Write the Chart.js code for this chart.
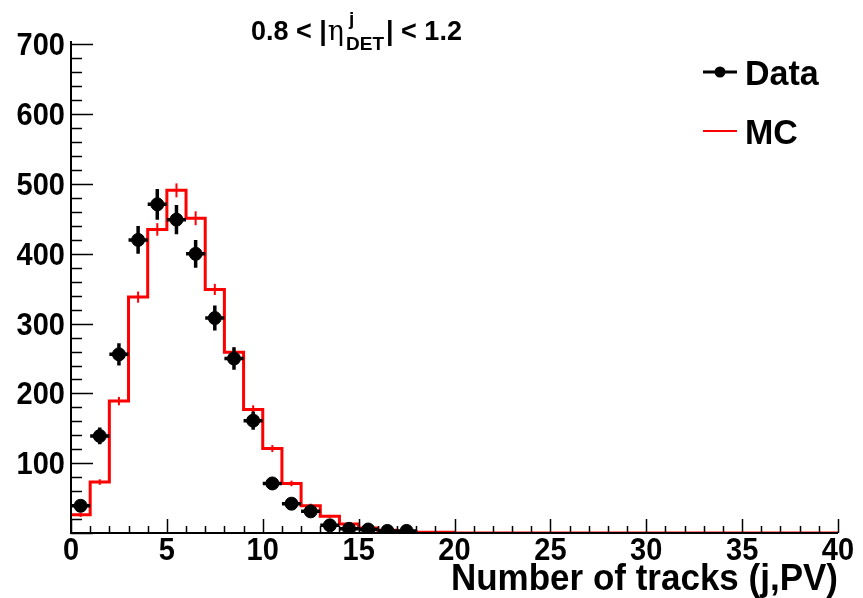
<!DOCTYPE html>
<html><head><meta charset="utf-8">
<script src="https://cdn.jsdelivr.net/npm/chart.js@4.4.1/dist/chart.umd.min.js"></script>
<style>html,body{margin:0;padding:0;background:#fff;} #wrap{width:863px;height:598px;position:relative}</style>
</head><body><div id="wrap"><canvas id="c" width="863" height="598"></canvas></div>
<script>
// Data (black points): bin centres, counts, errors
const dataX = [0.5,1.5,2.5,3.5,4.5,5.5,6.5,7.5,8.5,9.5,10.5,11.5,12.5,13.5,14.5,15.5,16.5,17.5];
const dataY = [39,139,256,420,471,449,400,308,250,161,71,42,31,11,6,5,3,3];
const dataErr = [6,12,16,20,22,21,20,18,16,13,8,6,6,3,3,2,2,2];
// MC histogram (red): bin low edges 0..39, contents, errors
const mcEdges = [0,1,2,3,4,5,6,7,8,9,10,11,12,13,14,15,16,17,18,19,20,21,22,23,24,25,26,27,28,29,30,31,32,33,34,35,36,37,38,39,40];
const mcY = [26,73,189,338,435,491,451,349,259,177,121,71,39,24,13,7,4,2,1,1,0,0,0,0,0,0,0,0,0,0,0,0,0,0,0,0,0,0,0,0];
const mcErr = [3,4,6,8,9,10,10,8,7,6,5,4,3,2,2,1,1,1,1,0,0,0,0,0,0,0,0,0,0,0,0,0,0,0,0,0,0,0,0,0];
// Axis ticks
const xTickLabels = [0,5,10,15,20,25,30,35,40];
const yTickLabels = [100,200,300,400,500,600,700];
const xRange = [0,40];
const yRange = [0,705];

const FONT = '"Liberation Sans", Arial, Helvetica, sans-serif';

const mcPoints = mcEdges.map((e,i)=>({x:e, y: i<mcY.length ? mcY[i] : mcY[mcY.length-1]}));
const dataPoints = dataX.map((x,i)=>({x:x, y:dataY[i]}));

function tallText(ctx, txt, x, y, sy){
  ctx.save(); ctx.translate(x, y); ctx.scale(1, sy); ctx.fillText(txt, 0, 0); ctx.restore();
}

const rootPlugin = {
  id:'rootStyle',
  afterDatasetDraw(chart, args){
    const ctx = chart.ctx, xs = chart.scales.x, ys = chart.scales.y;
    ctx.save();
    if (args.index === 1) { // MC error ticks
      ctx.strokeStyle = '#ff0000'; ctx.lineWidth = 2;
      mcY.forEach((v,i)=>{
        if (!mcErr[i]) return;
        const px = xs.getPixelForValue(mcEdges[i]+0.5);
        ctx.beginPath();
        ctx.moveTo(px, ys.getPixelForValue(v-mcErr[i]));
        ctx.lineTo(px, ys.getPixelForValue(v+mcErr[i]));
        ctx.stroke();
      });
    }
    ctx.restore();
  },
  beforeDatasetDraw(chart, args){
    const ctx = chart.ctx, xs = chart.scales.x, ys = chart.scales.y;
    if (args.index !== 0) return;
    ctx.save();
    ctx.strokeStyle = '#000'; ctx.lineWidth = 3.5;
    dataY.forEach((v,i)=>{
      const px = xs.getPixelForValue(dataX[i]);
      const py = ys.getPixelForValue(v);
      ctx.beginPath();
      ctx.moveTo(px, ys.getPixelForValue(Math.max(0,v-dataErr[i])));
      ctx.lineTo(px, ys.getPixelForValue(v+dataErr[i]));
      ctx.moveTo(xs.getPixelForValue(dataX[i]-0.5), py);
      ctx.lineTo(xs.getPixelForValue(dataX[i]+0.5), py);
      ctx.stroke();
    });
    ctx.restore();
  },
  afterDraw(chart){
    const ctx = chart.ctx, xs = chart.scales.x, ys = chart.scales.y;
    const a = chart.chartArea;
    ctx.save();
    ctx.strokeStyle = '#000'; ctx.lineWidth = 2;
    // axes
    ctx.beginPath();
    ctx.moveTo(a.left, a.top); ctx.lineTo(a.left, a.bottom); ctx.lineTo(a.right, a.bottom);
    ctx.stroke();
    ctx.lineWidth = 1.5;
    // y ticks (inward)
    ctx.beginPath();
    for (let v = 0; v <= yRange[1]; v += 20) {
      const py = Math.round(ys.getPixelForValue(v)) + 0.5;
      const len = (v % 100 === 0) ? 22 : 11;
      ctx.moveTo(a.left, py); ctx.lineTo(a.left + len, py);
    }
    // x ticks (inward)
    for (let v = xRange[0]; v <= xRange[1]; v += 1) {
      const px = Math.round(xs.getPixelForValue(v)) + 0.5;
      const len = (v % 5 === 0) ? 14 : 7;
      ctx.moveTo(px, a.bottom); ctx.lineTo(px, a.bottom - len);
    }
    ctx.stroke();
    // tick labels
    ctx.fillStyle = '#000';
    ctx.font = 'bold 29px ' + FONT;
    ctx.textAlign = 'right'; ctx.textBaseline = 'alphabetic';
    yTickLabels.forEach(v=>{ tallText(ctx, String(v), a.left - 6, ys.getPixelForValue(v) + 11, 1.08); });
    ctx.textAlign = 'center';
    xTickLabels.forEach(v=>{ tallText(ctx, String(v), xs.getPixelForValue(v), a.bottom + 27, 1.08); });
    // x title
    ctx.font = 'bold 35px ' + FONT;
    ctx.textAlign = 'right';
    tallText(ctx, 'Number of tracks (j,PV)', 838, 590, 1.05);
    // plot title with sup/sub
    ctx.textAlign = 'left';
    let x = 251; const base = 40;
    ctx.font = 'bold 27px ' + FONT;
    ctx.fillText('0.8 < |', x, base); x += ctx.measureText('0.8 < |').width + 1;
    ctx.font = '27px "DejaVu Serif", "Liberation Serif", serif';
    ctx.fillText('\u03b7', x, base); x += ctx.measureText('\u03b7').width + 2;
    ctx.font = 'bold 19px ' + FONT;
    ctx.fillText('j', x + 3, base - 15);
    ctx.fillText('DET', x, base + 10);
    x += ctx.measureText('DET').width + 2;
    ctx.font = 'bold 27px ' + FONT;
    ctx.fillText('| < 1.2', x, base);
    // legend
    ctx.font = 'bold 34px ' + FONT;
    ctx.strokeStyle = '#000'; ctx.lineWidth = 3;
    ctx.beginPath(); ctx.moveTo(703, 72); ctx.lineTo(737, 72); ctx.stroke();
    ctx.beginPath(); ctx.arc(720, 72, 5.5, 0, Math.PI*2); ctx.fillStyle = '#000'; ctx.fill();
    tallText(ctx, 'Data', 745, 85, 1.05);
    ctx.strokeStyle = '#ff0000'; ctx.lineWidth = 2;
    ctx.beginPath(); ctx.moveTo(703, 131); ctx.lineTo(737, 131); ctx.stroke();
    ctx.fillStyle = '#000';
    tallText(ctx, 'MC', 745, 144, 1.05);
    ctx.restore();
  }
};

new Chart(document.getElementById('c'), {
  type: 'scatter',
  data: {
    datasets: [
      { label:'Data', data: dataPoints, backgroundColor:'#000', borderColor:'#000', pointRadius:6.5, pointHoverRadius:6.5, showLine:false, order:0 },
      { label:'MC', type:'line', data: mcPoints, borderColor:'#ff0000', borderWidth:3, pointRadius:0, stepped:'before', fill:false, showLine:true, order:1 }
    ]
  },
  options: {
    responsive:false, animation:false, devicePixelRatio:1,
    events: [],
    layout: { padding: { top:41, right:25, left:0, bottom:0 } },
    plugins: { legend:{display:false}, tooltip:{enabled:false}, title:{display:false} },
    scales: {
      x: { type:'linear', min:xRange[0], max:xRange[1], ticks:{display:false}, grid:{display:false}, border:{display:false},
           afterFit(s){ s.height = 65; } },
      y: { type:'linear', min:yRange[0], max:yRange[1], ticks:{display:false}, grid:{display:false}, border:{display:false},
           afterFit(s){ s.width = 71; } }
    }
  },
  plugins: [rootPlugin]
});
</script>
</body></html>
